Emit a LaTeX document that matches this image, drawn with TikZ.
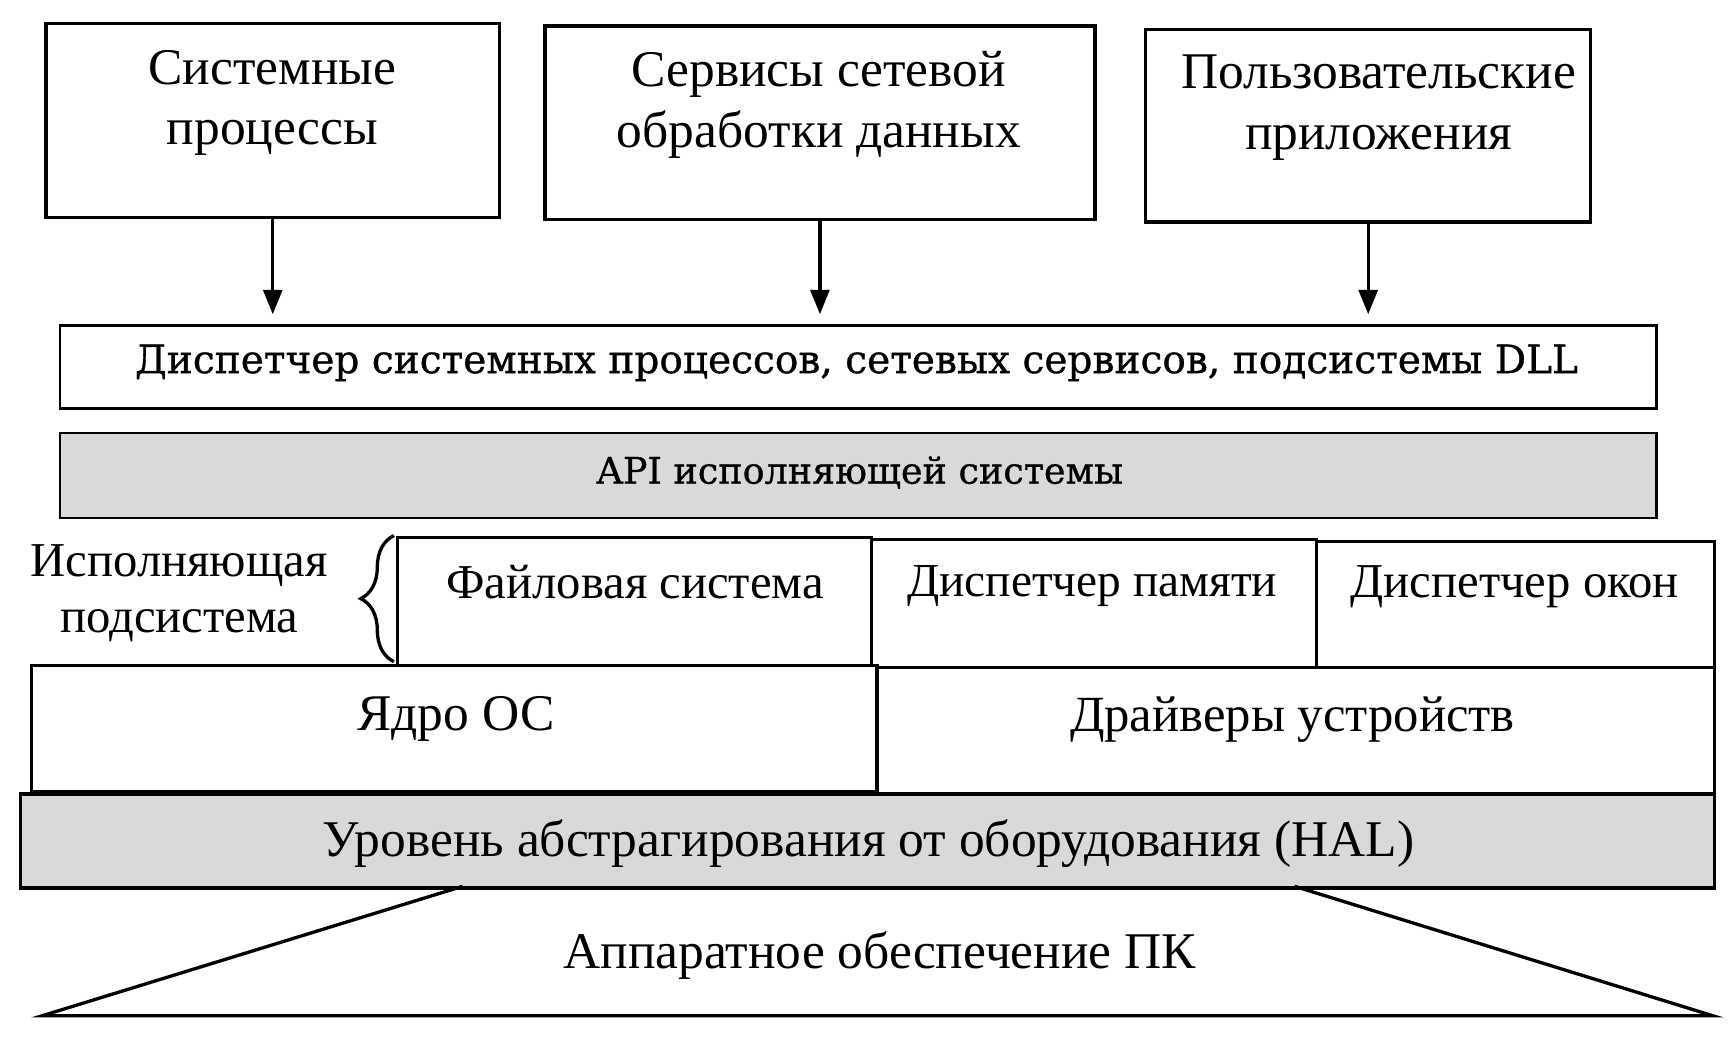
\documentclass[tikz,border=0pt]{standalone}
\usepackage{fontspec}
\setmainfont{Liberation Serif}
\newfontfamily\widefont[FakeBold=0.8]{DejaVu Serif}
\usetikzlibrary{arrows.meta,decorations.pathreplacing}
\tikzset{
  blk/.style={draw=black, line width=3pt, fill=white, inner sep=0pt, anchor=north west},
  shd/.style={blk, fill=gray!30},
  big/.style={font=\fontsize{46.5}{55}\selectfont, align=center},
  mid/.style={font=\fontsize{44}{50}\selectfont},
  wide/.style={font=\widefont\fontsize{35.3}{40}\selectfont},
  arr/.style={line width=3pt, -{Triangle[length=22pt,width=17pt]}}
}
\begin{document}
\begin{tikzpicture}[x=1pt,y=-1pt]
\useasboundingbox (0,0) rectangle (1568,943);
% top boxes
\node[blk, minimum width=410pt, minimum height=175pt] (b1) at (40,20) {};
\node[big, anchor=center] (t1) at (246,93) {Системные\\процессы};
\node[blk, minimum width=497pt, minimum height=175pt] (b2) at (491,22) {};
\node[big, anchor=center] (t2) at (740,95) {Сервисы сетевой\\обработки данных};
\node[blk, minimum width=402pt, minimum height=174pt] (b3) at (1034,25) {};
\node[big, anchor=center] (t3) at (1246,97) {Пользовательские\\приложения};
\coordinate (ay) at (0,284);
\draw[arr] (b1.south) -- (b1.south |- ay);
\draw[arr] (b2.south) -- (b2.south |- ay);
\draw[arr] (b3.south) -- (b3.south |- ay);
% dispatcher
\node[blk, line width=2.2pt, minimum width=1443pt, minimum height=75pt] (disp) at (53,293) {};
\node[wide] (dispt) at (774,328) {Диспетчер системных процессов, сетевых сервисов, подсистемы DLL};
% API
\node[shd, line width=2.2pt, minimum width=1443pt, minimum height=77pt] (api) at (53,390) {};
\node[wide, font=\widefont\fontsize{33}{38}\selectfont] (apit) at (777,427) {API исполняющей системы};
% executive subsystem
\node[blk, minimum width=428pt, minimum height=116pt] (fs) at (358,484) {};
\node[mid] (fst) at (574,526) {Файловая система};
\node[blk, minimum width=402pt, minimum height=116pt] (mm) at (786,486) {};
\node[mid, font=\fontsize{42.8}{50}\selectfont] (mmt) at (987,530) {Диспетчер памяти};
\node[blk, minimum width=360pt, minimum height=115pt] (wm) at (1188,488) {};
\node[mid] (wmt) at (1369,530) {Диспетчер окон};
\node[mid, align=center, font=\fontsize{44}{51}\selectfont] (exe) at (162,536) {Исполняющая\\подсистема};
\coordinate (brt) at (356,484);
\coordinate (brb) at (356,598);
\draw[line width=3pt, decorate, decoration={brace, amplitude=30pt, aspect=0.5, mirror}] (brt) -- (brb);
% kernel & drivers
\node[blk, minimum width=764pt, minimum height=114pt] (krn) at (27,600) {};
\node[big] (krnt) at (412,650) {Ядро ОС};
\node[blk, minimum width=757pt, minimum height=116pt] (drv) at (791,602) {};
\node[big, font=\fontsize{45.8}{55}\selectfont] (drvt) at (1168,650) {Драйверы устройств};
% HAL
\node[shd, minimum width=1531pt, minimum height=85pt] (hal) at (17,716) {};
\node[big] (halt) at (785,762) {Уровень абстрагирования от оборудования (HAL)};
% hardware trapezoid
\coordinate (h1) at (418,801);
\coordinate (h2) at (1170,801);
\coordinate (h3) at (1548,918);
\coordinate (h4) at (38,918);
\draw[line width=3pt, line join=miter] (h1) -- (h4) -- (h3) -- (h2);
\node[big] (hw) at (795,864) {Аппаратное обеспечение ПК};
\end{tikzpicture}
\end{document}
